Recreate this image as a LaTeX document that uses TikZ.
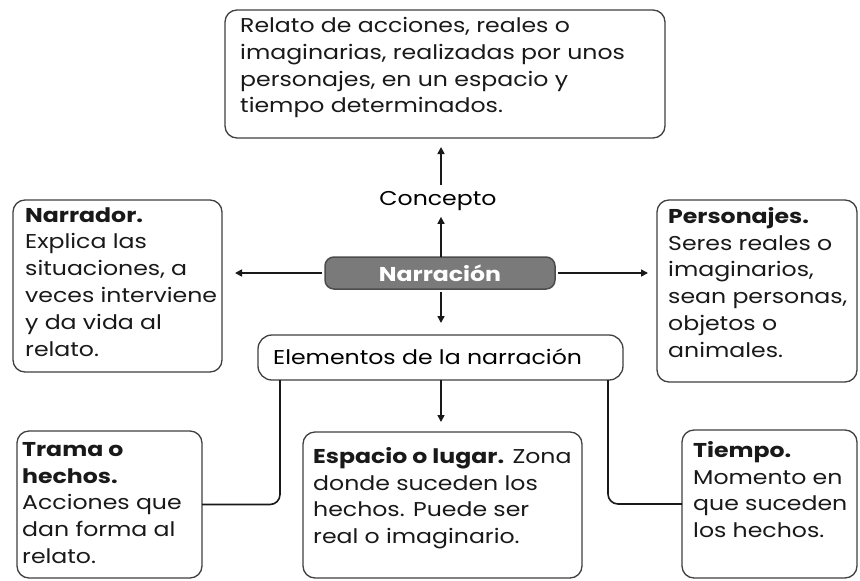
\documentclass[tikz,border=0pt]{standalone}
\usepackage{fontspec}
\setmainfont{Poppins}[FakeStretch=1.18]
\usetikzlibrary{arrows.meta,calc}
\newcommand{\fs}{\fontsize{20}{26.8}\selectfont}
\begin{document}
\begin{tikzpicture}[x=1pt,y=-1pt]
\tikzset{
 box/.style={draw=black!75, line width=1.3pt, rounded corners=12pt, fill=white, inner sep=0pt, outer sep=0pt, anchor=north west},
 txt/.style={anchor=north west, align=left, inner sep=0pt, font=\fs, text=black!90},
 arr/.style={-{Triangle[length=7pt,width=7pt]}, line width=1.6pt, black!90},
 conn/.style={line width=1.6pt, black!90, rounded corners=10pt},
}
\useasboundingbox (0,0) rectangle (860,581);
\fill[white] (0,0) rectangle (860,581);
\coordinate (mid) at (441,0);
% boxes
\node[box, minimum width=440pt, minimum height=128pt] (top) at (225,10) {};
\node[box, minimum width=209pt, minimum height=172pt] (narrador) at (13,200) {};
\node[box, minimum width=200pt, minimum height=182pt] (personajes) at (657,200) {};
\node[box, minimum width=365pt, minimum height=45pt, rounded corners=14pt] (elem) at (258,335) {};
\node[box, minimum width=185pt, minimum height=147pt] (trama) at (17,431) {};
\node[box, minimum width=279pt, minimum height=146pt] (espacio) at (303,432) {};
\node[box, minimum width=175pt, minimum height=148pt] (tiempo) at (682,430) {};
\node[box, draw=black!70, fill=black!52, rounded corners=9pt, line width=1.5pt, minimum width=230pt, minimum height=32pt] (narr) at (325,257) {};
% texts
\node[txt] (ttop) at (240,17) {Relato de acciones, reales o\\imaginarias, realizadas por unos\\personajes, en un espacio y\\tiempo determinados.};
\node[txt] (tnarrador) at (25,207) {\textbf{Narrador.}\\Explica las\\situaciones, a\\veces interviene\\y da vida al\\relato.};
\node[txt] (tpers) at (668,207) {\textbf{Personajes.}\\Seres reales o\\imaginarios,\\sean personas,\\objetos o\\animales.};
\node[txt] (ttrama) at (22,442) {\textbf{Trama o}\\\textbf{hechos.}\\Acciones que\\dan forma al\\relato.};
\node[txt] (tesp) at (313,447) {\textbf{Espacio o lugar.} Zona\\donde suceden los\\hechos. Puede ser\\real o imaginario.};
\node[txt] (ttiempo) at (693,441) {\textbf{Tiempo.}\\Momento en\\que suceden\\los hechos.};
\node[font=\fs, inner sep=0pt, anchor=center] (concepto) at (438,201) {Concepto};
\node[font=\fs\bfseries, text=white, inner sep=0pt] (tnarr) at (narr.center) {Narración};
\node[font=\fs, inner sep=0pt, anchor=west] (telem) at (273,357) {Elementos de la narración};
% connectors
\draw[arr, shorten <=6pt, shorten >=9pt] (concepto.north -| mid) -- (top.south -| mid);
\draw[arr, shorten >=6pt] (narr.north -| mid) -- (concepto.south -| mid);
\draw[arr, shorten <=3pt, shorten >=13pt] (narr.west) -- (narr.west -| narrador.east);
\draw[arr, shorten <=3pt, shorten >=9pt] (narr.east) -- (narr.east -| personajes.west);
\draw[arr, shorten <=3pt, shorten >=12pt] (narr.south -| mid) -- (elem.north -| mid);
\draw[arr, shorten >=10pt] (elem.south -| mid) -- (espacio.north -| mid);
\draw[conn] ([xshift=22pt]elem.south west) |- (trama.east);
\draw[conn] ([xshift=-15pt]elem.south east) |- (tiempo.west);
\end{tikzpicture}
\end{document}
